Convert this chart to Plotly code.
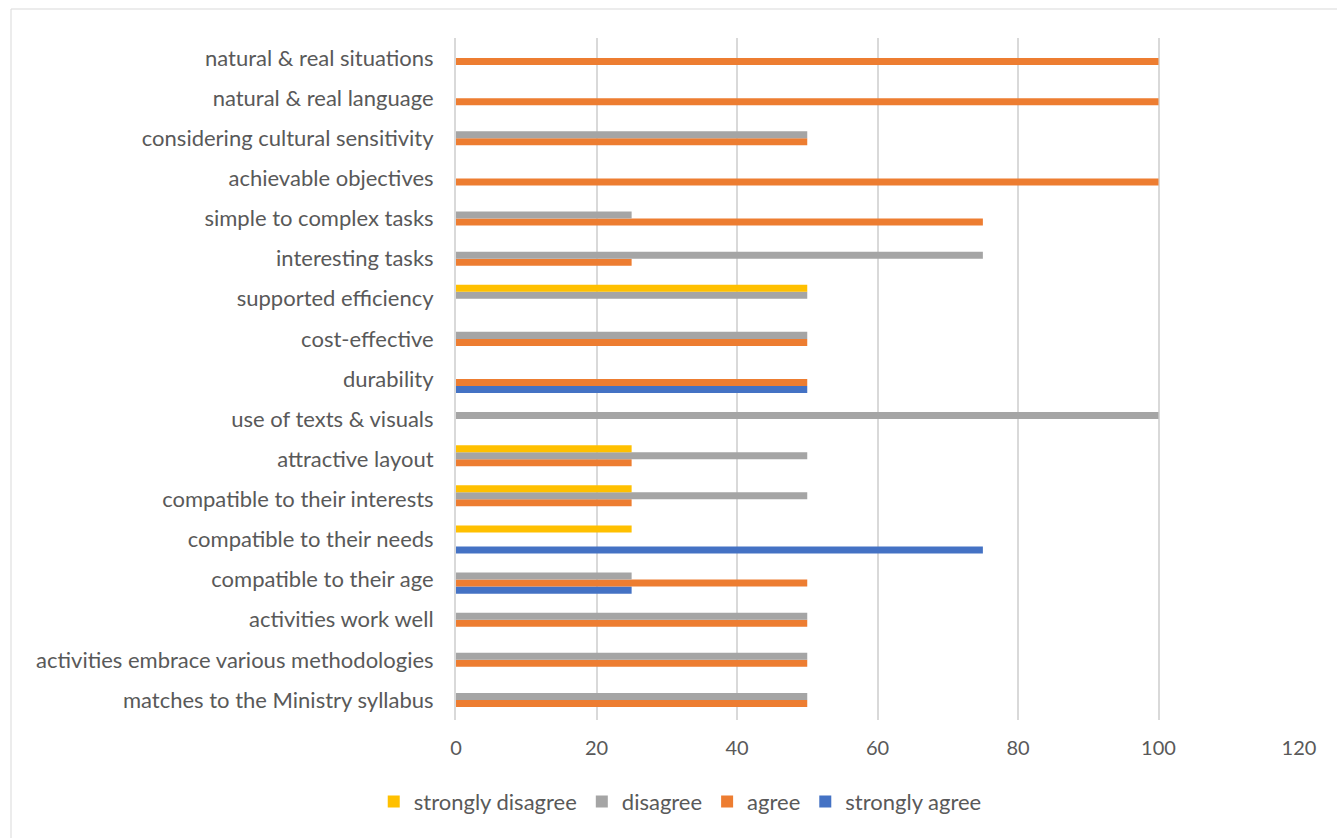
import plotly.graph_objects as go

categories = [
    "matches to the Ministry syllabus",
    "activities embrace various methodologies",
    "activities work well",
    "compatible to their age",
    "compatible to their needs",
    "compatible to their interests",
    "attractive layout",
    "use of texts & visuals",
    "durability",
    "cost-effective",
    "supported efficiency",
    "interesting tasks",
    "simple to complex tasks",
    "achievable objectives",
    "considering cultural sensitivity",
    "natural & real language",
    "natural & real situations",
]

strongly_agree = [0, 0, 0, 25, 75, 0, 0, 0, 50, 0, 0, 0, 0, 0, 0, 0, 0]
agree = [50, 50, 50, 50, 0, 25, 25, 0, 50, 50, 0, 25, 75, 100, 50, 100, 100]
disagree = [50, 50, 50, 25, 0, 50, 50, 100, 0, 50, 50, 75, 25, 0, 50, 0, 0]
strongly_disagree = [0, 0, 0, 0, 25, 25, 25, 0, 0, 0, 50, 0, 0, 0, 0, 0, 0]

series = [
    ("strongly agree", strongly_agree, "#4472C4"),
    ("agree", agree, "#ED7D31"),
    ("disagree", disagree, "#A5A5A5"),
    ("strongly disagree", strongly_disagree, "#FFC000"),
]

fig = go.Figure()
for name, vals, color in series:
    fig.add_trace(go.Bar(
        y=categories, x=vals, name=name, orientation="h",
        marker=dict(color=color, line=dict(width=0)),
    ))

W, H = 1337, 838
L, R, T, B = 456, 38, 38, 118
pw, ph = W - L - R, H - T - B

fig.update_layout(
    width=W, height=H,
    margin=dict(l=L, r=R, t=T, b=B),
    barmode="group", bargap=0.3, bargroupgap=0,
    plot_bgcolor="white", paper_bgcolor="white",
    font=dict(family="Lato, Carlito, sans-serif", size=20, color="#595959"),
    xaxis=dict(range=[0, 120], dtick=20, showgrid=True, gridcolor="#D9D9D9",
               gridwidth=2, zeroline=False, showline=False, ticks="",
               ticklabelstandoff=14,
               tickfont=dict(size=20, color="#595959")),
    yaxis=dict(categoryorder="array", categoryarray=categories,
               showgrid=False, zeroline=False, showline=True,
               linecolor="#D9D9D9", linewidth=2, ticks="",
               ticklabelstandoff=16,
               tickfont=dict(size=22, color="#595959")),
    legend=dict(orientation="h", traceorder="reversed", x=0.266, xanchor="center",
                y=-0.089, yanchor="top", font=dict(size=22, color="#595959"),
                itemwidth=30),
    showlegend=True,
    shapes=[dict(type="rect", xref="paper", yref="paper",
                 x0=(11 - L) / pw, x1=(W + 5 - L) / pw,
                 y0=-(B + 5) / ph, y1=1 + (T - 9) / ph,
                 line=dict(color="#D9D9D9", width=1), layer="below")],
)

fig.write_html("out.html")
